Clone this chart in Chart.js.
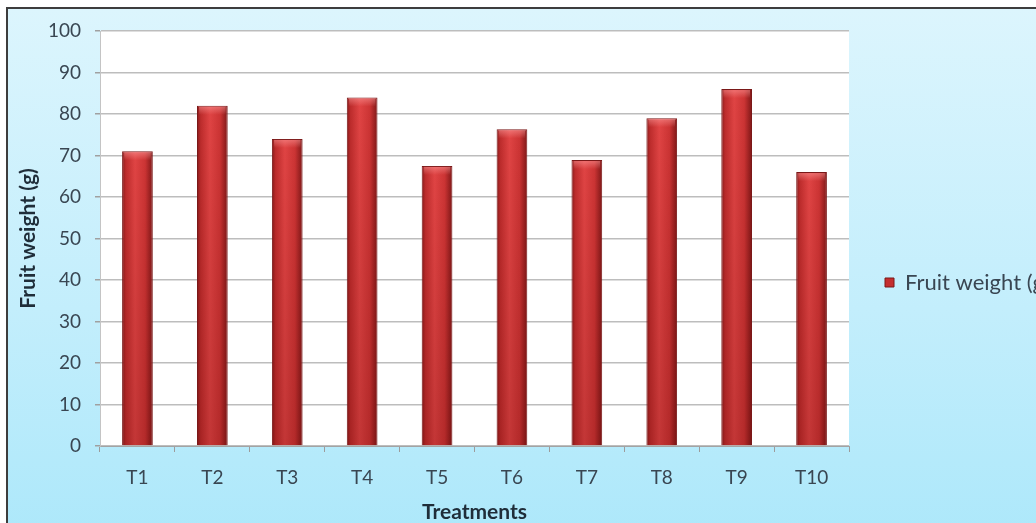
<!DOCTYPE html>
<html>
<head>
<meta charset="utf-8">
<title>Fruit weight</title>
<script src="https://cdn.jsdelivr.net/npm/chart.js@4.4.1/dist/chart.umd.min.js"></script>
<style>
  html, body { margin:0; padding:0; width:1036px; height:523px; overflow:hidden; background:#fff; }
  #frame {
    position:absolute; left:6px; top:7px; width:1100px; height:600px;
    border-left:2px solid #3d3d3d; border-top:2px solid #3d3d3d;
    background:linear-gradient(to bottom, #dcf5fd 0%, #c3eefc 50%, #a6e6fa 100%);
  }
  #wrap { position:absolute; left:0; top:0; width:1060px; height:523px; }
</style>
</head>
<body>
<div id="frame"></div>
<div id="wrap"><canvas id="chart"></canvas></div>
<script>
// treatments and mean fruit weight (g)
const categories = ['T1','T2','T3','T4','T5','T6','T7','T8','T9','T10'];
const fruitWeight = [71, 82, 74, 84, 67.5, 76.3, 68.9, 79, 86, 66];
const seriesName = 'Fruit weight (g)';
const yMin = 0, yMax = 100, yStep = 10;

const FONT = 'Lato, "Open Sans", sans-serif';
const TEXT = '#394652';

// white plot area behind the grid
const plotBg = {
  id: 'plotBg',
  beforeDraw(chart) {
    const {ctx, chartArea:a} = chart;
    ctx.save();
    ctx.fillStyle = '#fff';
    ctx.fillRect(a.left, a.top, a.right - a.left, a.bottom - a.top);
    ctx.restore();
  }
};

// cylinder-like shading for each bar
const barShade = {
  id: 'barShade',
  beforeDatasetsDraw(chart) {
    const ctx = chart.ctx;
    chart.getDatasetMeta(0).data.forEach(bar => {
      const x0 = bar.x - bar.width / 2, x1 = bar.x + bar.width / 2;
      const g = ctx.createLinearGradient(x0, 0, x1, 0);
      g.addColorStop(0, '#861a1a');
      g.addColorStop(0.12, '#bd2c2c');
      g.addColorStop(0.42, '#e04444');
      g.addColorStop(0.75, '#cc3434');
      g.addColorStop(1, '#7e1717');
      // options are shared between bars, so give each its own copy
      bar.options = Object.assign({}, bar.options, { backgroundColor: g });
    });
  },
  afterDatasetsDraw(chart) {
    const ctx = chart.ctx;
    chart.getDatasetMeta(0).data.forEach(bar => {
      const x0 = bar.x - bar.width / 2, w = bar.width, h = bar.base - bar.y;
      ctx.save();
      // darker toward the base
      const v = ctx.createLinearGradient(0, bar.y, 0, bar.base);
      v.addColorStop(0, 'rgba(80,0,0,0)');
      v.addColorStop(1, 'rgba(80,0,0,0.2)');
      ctx.fillStyle = v;
      ctx.fillRect(x0 + 1, bar.y + 1, w - 2, h - 1);
      // bevel highlight at the top
      const t = ctx.createLinearGradient(0, bar.y, 0, bar.y + 9);
      t.addColorStop(0, 'rgba(255,160,160,0.55)');
      t.addColorStop(1, 'rgba(255,160,160,0)');
      ctx.fillStyle = t;
      ctx.fillRect(x0 + 2, bar.y + 1, w - 4, 9);
      ctx.restore();
    });
  }
};

// legend sits to the right of the plot, a little below centre
const legendPlace = {
  id: 'legendPlace',
  afterLayout(chart) {
    const lg = chart.legend, a = chart.chartArea;
    const w = lg.width, h = lg.height;
    const cy = (a.top + a.bottom) / 2 + 44;
    lg.left = a.right + 26; lg.right = lg.left + w;
    lg.top = cy - h / 2; lg.bottom = lg.top + h;
  }
};

new Chart(document.getElementById('chart'), {
  type: 'bar',
  data: {
    labels: categories,
    datasets: [{
      label: seriesName,
      data: fruitWeight,
      backgroundColor: '#c42e2e',
      borderColor: '#7a1818',
      borderWidth: 1,
      categoryPercentage: 1,
      barPercentage: 0.41
    }]
  },
  options: {
    responsive: true,
    maintainAspectRatio: false,
    animation: false,
    layout: { padding: { left: 10, top: 31, right: 211, bottom: 0 } },
    plugins: {
      tooltip: { enabled: false },
      legend: {
        position: 'chartArea',
        align: 'center',
        labels: {
          boxWidth: 9, boxHeight: 9,
          color: TEXT,
          font: { family: FONT, size: 22 }
        }
      }
    },
    scales: {
      x: {
        afterFit(s) { s.height = 77; },
        grid: { offset: true, drawOnChartArea: false, drawTicks: true, tickLength: 6, color: '#9c9c9c' },
        border: { color: '#a3a3a3', width: 1 },
        ticks: { color: TEXT, padding: 14, font: { family: FONT, size: 19 } },
        title: {
          display: true, text: 'Treatments', color: '#1f2d39',
          padding: { top: 0, bottom: -2 },
          font: { family: FONT, size: 21, weight: 'bold' }
        }
      },
      y: {
        min: yMin, max: yMax,
        afterFit(s) { s.width = 90; },
        grid: { color: '#bdbdbd', lineWidth: 1.5, tickLength: 5, tickColor: '#a0a0a0' },
        border: { color: '#c4c4c4', width: 1 },
        ticks: { stepSize: yStep, color: TEXT, padding: 14, font: { family: FONT, size: 19 } },
        title: {
          display: true, text: seriesName, color: '#1f2d39',
          padding: { top: 6, bottom: 0 },
          font: { family: FONT, size: 21, weight: 'bold' }
        }
      }
    }
  },
  plugins: [plotBg, barShade, legendPlace]
});
</script>
</body>
</html>
